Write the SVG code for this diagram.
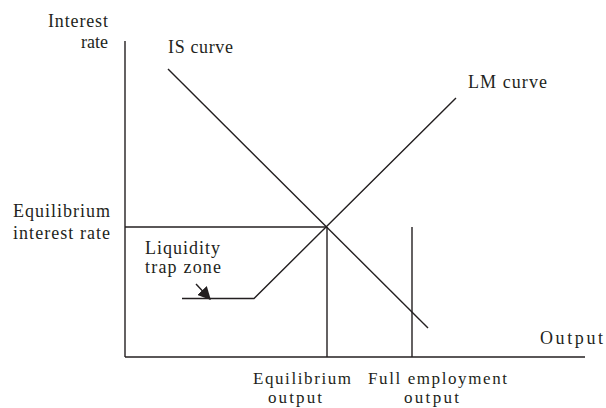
<svg xmlns="http://www.w3.org/2000/svg" width="606" height="408" viewBox="0 0 606 408">
<defs>
<style>
text{font-family:'Liberation Serif','DejaVu Serif',serif;font-size:18px;fill:#231f20}
.sm{font-size:17px}
.ln{stroke:#231f20;stroke-width:1.4;fill:none}
</style>
<marker id="ah" viewBox="0 0 10 10" refX="9" refY="5" markerWidth="13" markerHeight="13" markerUnits="userSpaceOnUse" orient="auto">
<path d="M0,0 L10,5 L0,10 z" fill="#231f20"/>
</marker>
</defs>
<rect width="606" height="408" fill="#fff"/>
<g id="axes">
<line class="ln" x1="125" y1="41" x2="125" y2="357"/>
<line class="ln" x1="125" y1="357" x2="585" y2="357"/>
<text x="108" y="27" text-anchor="end" textLength="60" lengthAdjust="spacing">Interest</text>
<text x="108" y="48" text-anchor="end">rate</text>
<text x="540" y="344" textLength="63" lengthAdjust="spacing">Output</text>
</g>
<g id="connectors">
<line class="ln" x1="168" y1="69" x2="428" y2="328"/>
<polyline class="ln" points="182,298.5 254,298.5 456,98"/>
<line class="ln" x1="125" y1="227" x2="327" y2="227"/>
<line class="ln" x1="327" y1="227" x2="327" y2="357"/>
<line class="ln" x1="412" y1="227" x2="412" y2="357"/>
<line class="ln" x1="196" y1="284" x2="210" y2="299" marker-end="url(#ah)"/>
</g>
<g id="is-curve"><text x="168" y="53" textLength="65" lengthAdjust="spacing">IS curve</text></g>
<g id="lm-curve"><text x="468" y="88" textLength="79" lengthAdjust="spacing">LM curve</text></g>
<g id="eq-rate">
<text x="13" y="217" textLength="97" lengthAdjust="spacing">Equilibrium</text>
<text x="13" y="239" textLength="97" lengthAdjust="spacing">interest rate</text>
</g>
<g id="liquidity-trap">
<text x="145" y="254" textLength="75" lengthAdjust="spacing">Liquidity</text>
<text x="145" y="273" textLength="76" lengthAdjust="spacing">trap zone</text>
</g>
<g id="eq-output">
<text class="sm" x="253" y="384" textLength="98" lengthAdjust="spacing">Equilibrium</text>
<text class="sm" x="268" y="403" textLength="54" lengthAdjust="spacing">output</text>
</g>
<g id="full-employment">
<text class="sm" x="368" y="384" textLength="139" lengthAdjust="spacing">Full employment</text>
<text class="sm" x="404" y="403" textLength="55" lengthAdjust="spacing">output</text>
</g>
</svg>
